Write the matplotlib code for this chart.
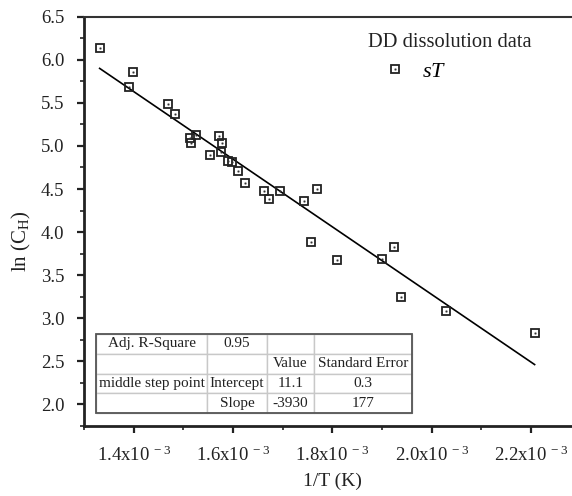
import matplotlib
matplotlib.use("Agg")
import matplotlib.pyplot as plt
import numpy as np
from matplotlib.ticker import FixedLocator, FixedFormatter, MultipleLocator
from matplotlib.legend_handler import HandlerTuple
from matplotlib.patches import Rectangle

plt.rcParams['font.family'] = ['Liberation Serif', 'DejaVu Serif']
plt.rcParams['mathtext.fontset'] = 'custom'
plt.rcParams['mathtext.rm'] = 'Liberation Serif'
plt.rcParams['mathtext.it'] = 'Liberation Serif:italic'

# ---- data ----
inv_T = [1.3315e-3, 1.391e-3, 1.3994e-3, 1.470e-3, 1.4827e-3, 1.5129e-3, 1.5155e-3,
         1.5256e-3, 1.5546e-3, 1.5714e-3, 1.5774e-3, 1.5768e-3, 1.5895e-3, 1.5975e-3,
         1.6097e-3, 1.6245e-3, 1.662e-3, 1.6735e-3, 1.6956e-3, 1.744e-3, 1.769e-3,
         1.7574e-3, 1.81e-3, 1.90e-3, 1.9249e-3, 1.9377e-3, 2.0284e-3, 2.2074e-3]
ln_CH = [6.14, 5.685, 5.855, 5.484, 5.375, 5.093, 5.035,
         5.131, 4.896, 5.12, 5.038, 4.934, 4.822, 4.818,
         4.713, 4.574, 4.474, 4.389, 4.482, 4.366, 4.50,
         3.883, 3.681, 3.686, 3.825, 3.252, 3.086, 2.827]
fit_intercept = 11.125
fit_slope = -3924.0
fit_x_range = [1.3315e-3, 2.2074e-3]

xtick_vals = [1.4e-3, 1.6e-3, 1.8e-3, 2.0e-3, 2.2e-3]
xtick_labels = [r'1.4x10$^{\ -3}$', r'1.6x10$^{\ -3}$', r'1.8x10$^{\ -3}$',
                r'2.0x10$^{\ -3}$', r'2.2x10$^{\ -3}$']
ytick_vals = [2.0, 2.5, 3.0, 3.5, 4.0, 4.5, 5.0, 5.5, 6.0, 6.5]

table_rows = [["Adj. R-Square", "0.95", "", ""],
              ["", "", "Value", "Standard Error"],
              ["middle step point", "Intercept", "11.1", "0.3"],
              ["", "Slope", "-3930", "177"]]

legend_title = "DD dissolution data"
series_label = r"$sT$"

# ---- figure ----
fig = plt.figure(figsize=(5.72, 4.96), dpi=100)
ax = fig.add_axes([84/572, 70/496, 496.6/572, 409.3/496])

edge = '#222222'
sq = ax.plot(inv_T, ln_CH, linestyle='none', marker='s', ms=5.6, mfc='none',
             mec=edge, mew=1.3, zorder=3)[0]
dot = ax.plot(inv_T, ln_CH, linestyle='none', marker='s', ms=1.0, mfc='#333333',
              mec='#333333', mew=0.3, zorder=4)[0]

fx = np.array(fit_x_range)
ax.plot(fx, fit_intercept + fit_slope * fx, color='black', lw=1.2, zorder=2)

ax.set_xlim(1.3e-3, 2.3e-3)
ax.set_ylim(1.75, 6.5)

ax.xaxis.set_major_locator(FixedLocator(xtick_vals))
ax.xaxis.set_major_formatter(FixedFormatter(xtick_labels))
ax.xaxis.set_minor_locator(MultipleLocator(1e-4))
ax.yaxis.set_major_locator(FixedLocator(ytick_vals))
ax.yaxis.set_major_formatter(FixedFormatter([f"{v:.1f}" for v in ytick_vals]))
ax.yaxis.set_minor_locator(MultipleLocator(0.25))

ax.tick_params(which='major', direction='out', length=5, width=1.6, labelsize=13.5,
               colors='#222222', top=False, right=False)
ax.tick_params(which='minor', direction='out', length=3, width=1.2, colors='#222222',
               top=False, right=False)
ax.tick_params(axis='x', which='major', pad=9)
ax.tick_params(axis='y', which='major', pad=9)

for s in ['left', 'bottom']:
    ax.spines[s].set_linewidth(2.0)
    ax.spines[s].set_color('#222222')
ax.spines['top'].set_linewidth(1.5)
ax.spines['top'].set_color('#333333')
ax.spines['right'].set_linewidth(1.5)

ax.set_xlabel('1/T (K)', fontsize=14, color='#222222', labelpad=6)
ax.set_ylabel(r'ln (C$_\mathregular{H}$)', fontsize=15, color='#222222')
ax.yaxis.set_label_coords(-51 / 496.6, (426 - 241) / 409.3)

# legend
ax.text((450 - 84) / 496.6, (426 - 42.5) / 409.3, legend_title, transform=ax.transAxes,
        ha='center', va='center', fontsize=14.8, color='#222222')
leg = ax.legend([(sq, dot)], [series_label], handler_map={tuple: HandlerTuple(ndivide=1)},
                loc='center left', bbox_to_anchor=((385 - 84) / 496.6, (426 - 71.5) / 409.3),
                frameon=False, fontsize=16, handlelength=0.9, handletextpad=0.75,
                borderpad=0, borderaxespad=0)

# table
col_w = np.array([111, 60, 47, 98], dtype=float)
tb = ax.table(cellText=table_rows, colWidths=list(col_w / col_w.sum()),
              cellLoc='center',
              bbox=[(96 - 84) / 496.6, (426 - 413) / 409.3, 316 / 496.6, 79 / 409.3])
tb.auto_set_font_size(False)
tb.set_fontsize(11)
for (r, c), cell in tb.get_celld().items():
    cell.set_edgecolor('#c8c8c8')
    cell.set_linewidth(1.0)
    cell.get_text().set_color('#222222')
ax.add_patch(Rectangle(((96 - 84) / 496.6, (426 - 413) / 409.3), 316 / 496.6, 79 / 409.3,
                       transform=ax.transAxes, fill=False, edgecolor='#555555', lw=1.3,
                       zorder=10))

fig.savefig('out.png', dpi=100)
